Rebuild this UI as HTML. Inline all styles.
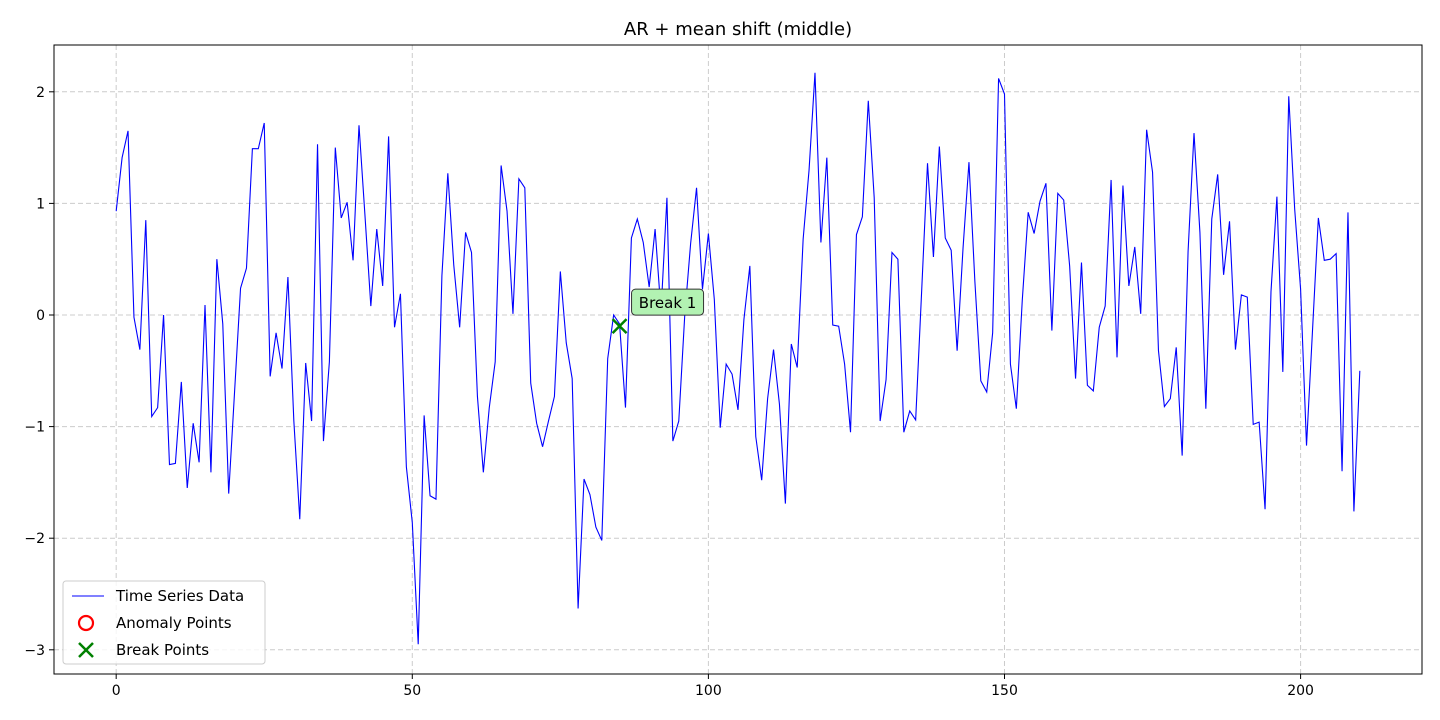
<!DOCTYPE html>
<html><head><meta charset="utf-8"><style>
body{margin:0;background:#fff;}
svg{display:block;font-family:"DejaVu Sans","Liberation Sans",sans-serif;}
</style></head><body>
<svg id="chart" width="1440" height="720" xmlns="http://www.w3.org/2000/svg">
<rect width="1440" height="720" fill="#fff"/>
<text x="738" y="35" text-anchor="middle" font-size="18">AR + mean shift (middle)</text>
<g id="grid"></g>
<g id="ticks"></g>
<g id="series"></g>
<rect x="54" y="45" width="1368" height="629" fill="none" stroke="#000" stroke-width="1"/>
<g>
<rect x="63" y="581" width="202" height="83" rx="3" fill="#fff" fill-opacity="0.8" stroke="#ccc"/>
<line x1="72" y1="596" x2="104" y2="596" stroke="#0000ff" stroke-width="1"/>
<text x="116" y="601" font-size="15">Time Series Data</text>
<circle cx="86" cy="623" r="7" fill="none" stroke="#ff0000" stroke-width="2.2"/>
<text x="116" y="628" font-size="15">Anomaly Points</text>
<path d="M79,643 L93,657 M93,643 L79,657" stroke="#008000" stroke-width="2.5"/>
<text x="116" y="655" font-size="15">Break Points</text>
</g>
</svg>
<script>
const values = [0.93,1.41,1.65,-0.02,-0.31,0.85,-0.91,-0.83,0.0,-1.34,-1.33,-0.6,-1.55,-0.97,-1.32,0.09,-1.41,0.5,-0.08,-1.6,
-0.68,0.24,0.42,1.49,1.49,1.72,-0.55,-0.16,-0.48,0.34,-0.95,-1.83,-0.43,-0.95,1.53,-1.13,-0.42,1.5,0.87,1.01,
0.49,1.7,0.9,0.08,0.77,0.26,1.6,-0.11,0.19,-1.36,-1.86,-2.95,-0.9,-1.62,-1.65,0.35,1.27,0.45,-0.11,0.74,
0.56,-0.73,-1.41,-0.83,-0.42,1.34,0.93,0.01,1.22,1.14,-0.61,-0.97,-1.18,-0.95,-0.73,0.39,-0.25,-0.57,-2.63,-1.47,
-1.61,-1.9,-2.02,-0.39,0.0,-0.08,-0.83,0.69,0.86,0.65,0.25,0.77,0.03,1.05,-1.13,-0.95,-0.01,0.64,1.14,0.23,
0.73,0.14,-1.01,-0.44,-0.53,-0.85,-0.04,0.44,-1.09,-1.48,-0.75,-0.31,-0.8,-1.69,-0.26,-0.47,0.68,1.3,2.17,0.65,
1.41,-0.09,-0.1,-0.44,-1.05,0.72,0.88,1.92,1.05,-0.95,-0.58,0.56,0.5,-1.05,-0.86,-0.94,0.2,1.36,0.52,1.51,
0.69,0.58,-0.32,0.6,1.37,0.3,-0.59,-0.69,-0.16,2.12,1.98,-0.44,-0.84,0.13,0.92,0.73,1.02,1.18,-0.14,1.09,
1.03,0.44,-0.57,0.47,-0.63,-0.68,-0.11,0.08,1.21,-0.38,1.16,0.26,0.61,0.01,1.66,1.28,-0.32,-0.82,-0.75,-0.29,
-1.26,0.57,1.63,0.74,-0.84,0.86,1.26,0.36,0.84,-0.31,0.18,0.16,-0.98,-0.96,-1.74,0.21,1.06,-0.51,1.96,0.95,
0.23,-1.17,-0.15,0.87,0.49,0.5,0.55,-1.4,0.92,-1.76,-0.5];
const breakIdx = [85];
const breakVals = [-0.1];
const breakLabels = ["Break 1"];
const xTicks = [0,50,100,150,200];
const yTicks = [-3,-2,-1,0,1,2];

const L=54,R=1422,T=45,B=674;
const xMin=-10.5,xMax=220.5;
const yPer=111.6, y0px=315;
const xs=v=>L+(v-xMin)/(xMax-xMin)*(R-L);
const ys=v=>y0px-v*yPer;
const NS="http://www.w3.org/2000/svg";
const grid=document.getElementById('grid'),ticks=document.getElementById('ticks'),series=document.getElementById('series');
function mk(tag,attrs,parent){const e=document.createElementNS(NS,tag);for(const k in attrs)e.setAttribute(k,attrs[k]);parent.appendChild(e);return e;}
xTicks.forEach(t=>{
  const x=xs(t);
  const g=mk('line',{x1:x,x2:x,y1:T,y2:B,stroke:'#ccc','stroke-dasharray':'5,3','stroke-width':1},grid);
  
  
  const tk=mk('line',{x1:x,x2:x,y1:B,y2:B+5,stroke:'#000'},ticks);
  
  
  const tx=mk('text',{x:x,y:B+21,'text-anchor':'middle','font-size':14},ticks);
  tx.textContent=t;
  
  
});
yTicks.forEach(t=>{
  const y=ys(t);
  const g=mk('line',{x1:L,x2:R,y1:y,y2:y,stroke:'#ccc','stroke-dasharray':'5,3','stroke-width':1},grid);
  
  
  const tk=mk('line',{x1:L-5,x2:L,y1:y,y2:y,stroke:'#000'},ticks);
  
  
  const tx=mk('text',{x:L-9,y:y+5,'text-anchor':'end','font-size':14},ticks);
  tx.textContent=(t<0?'\u2212'+(-t):t);
  
  
});
const pts=values.map((v,i)=>xs(i).toFixed(2)+','+ys(v).toFixed(2)).join(' ');
const pl=mk('polyline',{points:pts,fill:'none',stroke:'#0000ff','stroke-width':1.1,'stroke-linejoin':'miter'},series);


breakIdx.forEach((b,k)=>{
  const x=xs(b),y=ys(breakVals[k]);
  const m=mk('path',{d:`M${x-7},${y-7} L${x+7},${y+7} M${x+7},${y-7} L${x-7},${y+7}`,stroke:'#008000','stroke-width':2.5},series);
  
  
  const r=mk('rect',{x:x+12,y:y-37,width:72,height:26,rx:4,fill:'#b2f2b2',stroke:'#333','stroke-width':1},series);
  
  
  const t=mk('text',{x:x+48,y:y-18,'text-anchor':'middle','font-size':15},series);
  t.textContent=breakLabels[k];
  
  
});
</script>
</body></html>
